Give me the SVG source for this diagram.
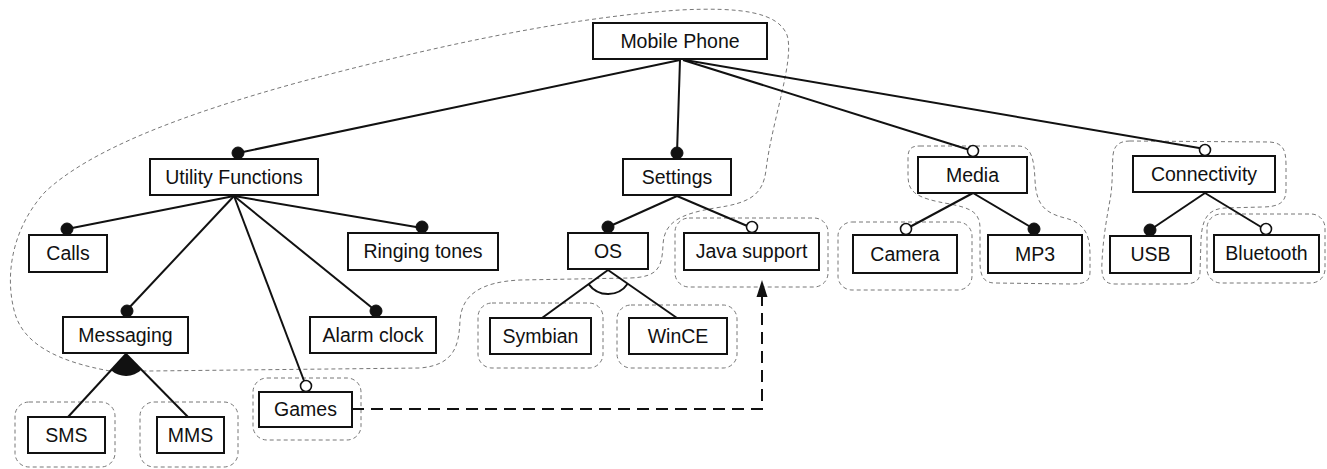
<svg xmlns="http://www.w3.org/2000/svg" width="1327" height="469" viewBox="0 0 1327 469">
<defs>
<style>
.box{fill:#fff;stroke:#111;stroke-width:2}
.lbl{font-family:"Liberation Sans",Arial,sans-serif;font-size:19.5px;fill:#111;text-anchor:middle}
.grp{fill:none;stroke:#777;stroke-width:1;stroke-dasharray:4 3}
.edge{stroke:#111;stroke-width:2;fill:none}
.mand{fill:#111;stroke:#111;stroke-width:1}
.opt{fill:#fff;stroke:#111;stroke-width:1.6}
</style>
</defs>
<rect width="1327" height="469" fill="#fff"/>

<g id="groups">
<path class="grp" d="M 110 371 C 60 362, 22 345, 14 310 C 4 270, 15 225, 45 192 C 90 150, 180 115, 300 82 C 420 50, 560 18, 680 10 C 740 7, 778 12, 787 35 C 795 60, 772 120, 766 170 C 763 195, 750 203, 715 208 C 680 214, 664 222, 663 245 C 662 268, 658 277, 630 278 L 520 280 C 480 282, 462 295, 460 320 C 459 345, 455 365, 420 368 L 150 371 Z"/>
<path class="grp" d="M 920 146 L 1018 146 C 1032 146, 1034 160, 1035 180 C 1036 205, 1045 213, 1065 218 C 1085 223, 1090 235, 1090 255 L 1090 272 C 1090 282, 1084 284, 1070 284 L 995 283 C 983 283, 980 275, 980 262 L 980 228 C 980 212, 970 208, 950 204 C 915 198, 908 192, 908 175 L 908 158 C 908 148, 912 146, 920 146 Z"/>
<path class="grp" d="M 1130 141 L 1270 142 C 1283 143, 1286 150, 1286 165 L 1286 190 C 1286 203, 1278 207, 1262 207 L 1225 208 C 1207 209, 1202 220, 1201 240 L 1200 272 C 1200 282, 1193 284, 1182 284 L 1115 284 C 1104 284, 1101 278, 1102 262 C 1103 240, 1106 222, 1110 200 C 1113 185, 1112 165, 1113 155 C 1114 145, 1120 141, 1130 141 Z"/>
<rect class="grp" x="15" y="402" width="100" height="65" rx="14"/>
<rect class="grp" x="140" y="402" width="98" height="65" rx="14"/>
<rect class="grp" x="253" y="378" width="108" height="62" rx="14"/>
<rect class="grp" x="478" y="303" width="125" height="65" rx="14"/>
<rect class="grp" x="617" y="305" width="120" height="63" rx="14"/>
<rect class="grp" x="675" y="218" width="153" height="69" rx="14"/>
<rect class="grp" x="838" y="222" width="134" height="68" rx="14"/>
<rect class="grp" x="1207" y="214" width="118" height="69" rx="14"/>
</g>

<g id="connectors">
<line class="edge" x1="680" y1="60" x2="238" y2="153"/>
<line class="edge" x1="680" y1="60" x2="677" y2="153"/>
<line class="edge" x1="683" y1="60" x2="973" y2="151"/>
<line class="edge" x1="685" y1="60" x2="1205" y2="149"/>
<line class="edge" x1="234" y1="196" x2="67" y2="229"/>
<line class="edge" x1="234" y1="196" x2="422" y2="228"/>
<line class="edge" x1="234" y1="196" x2="127" y2="310"/>
<line class="edge" x1="234" y1="196" x2="376" y2="311"/>
<line class="edge" x1="234" y1="196" x2="306" y2="386"/>
<line class="edge" x1="126" y1="354" x2="68" y2="417"/>
<line class="edge" x1="126" y1="354" x2="188" y2="417"/>
<path d="M 126 354 L 111.1 370.2 A 22 22 0 0 0 141.4 369.7 Z" fill="#111"/>
<line class="edge" x1="677" y1="196" x2="608" y2="227"/>
<line class="edge" x1="677" y1="196" x2="752" y2="228"/>
<line class="edge" x1="608" y1="270" x2="542" y2="318"/>
<line class="edge" x1="608" y1="270" x2="677" y2="318"/>
<path class="edge" stroke-width="1.6" d="M 588.6 284.1 A 24 24 0 0 0 627.7 283.7"/>
<line class="edge" x1="973" y1="193" x2="906" y2="229"/>
<line class="edge" x1="973" y1="193" x2="1034" y2="229"/>
<line class="edge" x1="1205" y1="193" x2="1150" y2="230"/>
<line class="edge" x1="1205" y1="193" x2="1266" y2="230"/>
<path class="edge" stroke-dasharray="12 7" d="M 352 409 L 762 409 L 762 295"/>
<polygon points="762,280 756.5,297 767.5,297" fill="#111"/>
<circle class="mand" cx="238" cy="153" r="6"/>
<circle class="mand" cx="677" cy="153" r="6"/>
<circle class="opt" cx="973" cy="151" r="5.5"/>
<circle class="opt" cx="1205" cy="150" r="5.5"/>
<circle class="mand" cx="67" cy="229" r="6"/>
<circle class="mand" cx="422" cy="227" r="6"/>
<circle class="mand" cx="127" cy="311" r="6"/>
<circle class="mand" cx="376" cy="311" r="6"/>
<circle class="opt" cx="306" cy="386" r="5.5"/>
<circle class="mand" cx="608" cy="227" r="6"/>
<circle class="opt" cx="752" cy="227" r="5.5"/>
<circle class="opt" cx="906" cy="229" r="5.5"/>
<circle class="mand" cx="1034" cy="229" r="6"/>
<circle class="mand" cx="1150" cy="230" r="6"/>
<circle class="opt" cx="1266" cy="229" r="5.5"/>
</g>

<g id="n-mobile"><rect class="box" x="593" y="23" width="174" height="36"/><text class="lbl" x="680" y="48">Mobile Phone</text></g>
<g id="n-utility"><rect class="box" x="150" y="159" width="168" height="36"/><text class="lbl" x="234" y="184">Utility Functions</text></g>
<g id="n-settings"><rect class="box" x="623" y="159" width="108" height="36"/><text class="lbl" x="677" y="184">Settings</text></g>
<g id="n-media"><rect class="box" x="918" y="157" width="109" height="36"/><text class="lbl" x="972.5" y="182">Media</text></g>
<g id="n-connectivity"><rect class="box" x="1133" y="156" width="142" height="36"/><text class="lbl" x="1204" y="181">Connectivity</text></g>
<g id="n-calls"><rect class="box" x="29" y="235" width="78" height="37"/><text class="lbl" x="68" y="260">Calls</text></g>
<g id="n-ringing"><rect class="box" x="348" y="233" width="150" height="37"/><text class="lbl" x="423" y="258">Ringing tones</text></g>
<g id="n-messaging"><rect class="box" x="63" y="317" width="125" height="36"/><text class="lbl" x="125.5" y="342">Messaging</text></g>
<g id="n-alarm"><rect class="box" x="310" y="317" width="126" height="36"/><text class="lbl" x="373" y="342">Alarm clock</text></g>
<g id="n-sms"><rect class="box" x="28" y="417" width="77" height="36"/><text class="lbl" x="66.5" y="442">SMS</text></g>
<g id="n-mms"><rect class="box" x="157" y="417" width="67" height="36"/><text class="lbl" x="190.5" y="442">MMS</text></g>
<g id="n-games"><rect class="box" x="259" y="392" width="93" height="35"/><text class="lbl" x="305.5" y="416">Games</text></g>
<g id="n-os"><rect class="box" x="568" y="233" width="80" height="36"/><text class="lbl" x="608" y="258">OS</text></g>
<g id="n-java"><rect class="box" x="684" y="233" width="135" height="37"/><text class="lbl" x="751.5" y="258">Java support</text></g>
<g id="n-symbian"><rect class="box" x="490" y="318" width="101" height="36"/><text class="lbl" x="540.5" y="343">Symbian</text></g>
<g id="n-wince"><rect class="box" x="629" y="318" width="98" height="36"/><text class="lbl" x="678" y="343">WinCE</text></g>
<g id="n-camera"><rect class="box" x="853" y="235" width="104" height="38"/><text class="lbl" x="905" y="261">Camera</text></g>
<g id="n-mp3"><rect class="box" x="988" y="235" width="94" height="38"/><text class="lbl" x="1035" y="261">MP3</text></g>
<g id="n-usb"><rect class="box" x="1110" y="236" width="81" height="37"/><text class="lbl" x="1150.5" y="261">USB</text></g>
<g id="n-bluetooth"><rect class="box" x="1214" y="235" width="105" height="37"/><text class="lbl" x="1266.5" y="260">Bluetooth</text></g>
</svg>
